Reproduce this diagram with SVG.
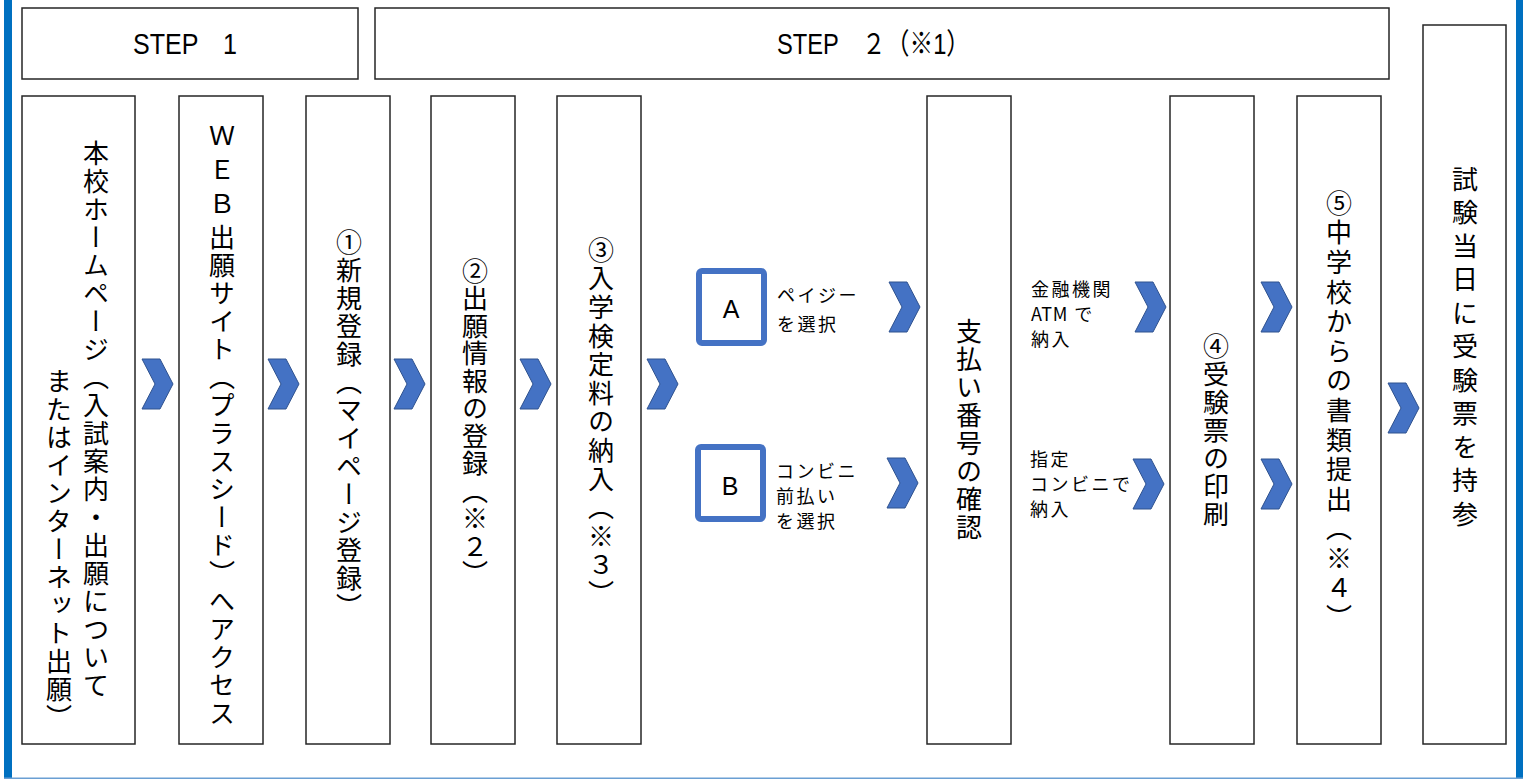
<svg xmlns="http://www.w3.org/2000/svg" width="1523" height="780" viewBox="0 0 1523 780">
<style>
.box{fill:#fff;stroke:#262626;stroke-width:1.5}
.v{font-family:"Noto Sans CJK JP","Noto Sans CJK SC",sans-serif;font-size:26px;writing-mode:vertical-rl;letter-spacing:2px;fill:#000}
.h{font-family:"Noto Sans CJK JP","Noto Sans CJK SC",sans-serif;font-size:18px;letter-spacing:2.5px;fill:#000}
.step{font-family:"Liberation Sans","Noto Sans CJK JP",sans-serif;font-size:29px;fill:#000}
.sel{fill:#fff;stroke:#4472C4;stroke-width:6}
.letter{font-family:"Liberation Sans",sans-serif;font-size:25px;fill:#000;text-anchor:middle}
.chev{fill:#4472C4;stroke:#2F528F;stroke-width:1}
</style>
<defs>
<path id="chev" class="chev" d="M0,0 H18 L31,25 L18,50 H0 L13,25 Z"/>
</defs>
<rect x="0" y="0" width="1523" height="780" fill="#fff"/>
<g id="frame">
<rect x="4" y="0" width="8" height="779" fill="#0070C0"/>
<rect x="1516" y="0" width="7" height="779" fill="#0070C0"/>
<rect x="4" y="777.5" width="1519" height="1.5" fill="#6A9FD3"/>
</g>
<g id="step1">
<rect class="box" x="22" y="8" width="336" height="71"/>
<text class="step" x="133" y="54" textLength="104" lengthAdjust="spacingAndGlyphs">STEP　1</text>
</g>
<g id="step2">
<rect class="box" x="375" y="8" width="1014" height="71"/>
<text class="step" x="777" y="54" textLength="193" lengthAdjust="spacingAndGlyphs">STEP　２（※1）</text>
</g>
<g id="homepage">
<rect class="box" x="22" y="96" width="113" height="648"/>
<text class="v" x="96" y="140">本校ホームページ（入試案内・出願について</text>
<text class="v" x="59" y="368">またはインターネット出願）</text>
</g>
<g id="website">
<rect class="box" x="179" y="96" width="84" height="648"/>
<text class="v" x="222" y="122"><tspan style="letter-spacing:8px">ＷＥＢ</tspan>出願サイト（プラスシード）へアクセス</text>
</g>
<g id="step-1">
<rect class="box" x="306" y="96" width="84" height="648"/>
<text class="v" x="349" y="229">①新規登録（マイページ登録）</text>
</g>
<g id="step-2">
<rect class="box" x="431" y="96" width="84" height="648"/>
<text class="v" x="475" y="258" style="letter-spacing:1.5px">②出願情報の登録（※２）</text>
</g>
<g id="step-3">
<rect class="box" x="557" y="96" width="84" height="648"/>
<text class="v" x="601" y="237" style="letter-spacing:2.6px">③入学検定料の納入（※３）</text>
</g>
<g id="optA">
<rect class="sel" x="699" y="271" width="65" height="72" rx="3"/>
<text class="letter" x="731" y="318">A</text>
<text class="h" x="777" y="302">ペイジー</text>
<text class="h" x="777" y="331">を選択</text>
</g>
<g id="optB">
<rect class="sel" x="698" y="447" width="65" height="72" rx="3"/>
<text class="letter" x="730" y="495">B</text>
<text class="h" x="776" y="478">コンビニ</text>
<text class="h" x="776" y="503">前払い</text>
<text class="h" x="776" y="528">を選択</text>
</g>
<g id="paycode">
<rect class="box" x="927" y="96" width="84" height="648"/>
<text class="v" x="969" y="318">支払い番号の確認</text>
</g>
<g id="atm">
<text class="h" x="1031" y="296">金融機関</text>
<text class="h" x="1031" y="321"><tspan style="letter-spacing:0.5px">ATM</tspan> で</text>
<text class="h" x="1031" y="346">納入</text>
</g>
<g id="conv">
<text class="h" x="1030" y="466">指定</text>
<text class="h" x="1030" y="491">コンビニで</text>
<text class="h" x="1030" y="516">納入</text>
</g>
<g id="step-4">
<rect class="box" x="1170" y="96" width="84" height="648"/>
<text class="v" x="1216" y="333">④受験票の印刷</text>
</g>
<g id="step-5">
<rect class="box" x="1297" y="96" width="84" height="648"/>
<text class="v" x="1339" y="190" style="letter-spacing:3.6px">⑤中学校からの書類提出（※４）</text>
</g>
<g id="exam">
<rect class="box" x="1423" y="25" width="83" height="719"/>
<text class="v" x="1465" y="166" style="letter-spacing:7.5px">試験当日に受験票を持参</text>
</g>
<g id="connectors">
<use href="#chev" x="142" y="359"/>
<use href="#chev" x="268" y="359"/>
<use href="#chev" x="394" y="359"/>
<use href="#chev" x="520" y="359"/>
<use href="#chev" x="647" y="359"/>
<use href="#chev" x="889" y="282"/>
<use href="#chev" x="887" y="458"/>
<use href="#chev" x="1135" y="282"/>
<use href="#chev" x="1133" y="459"/>
<use href="#chev" x="1261" y="282"/>
<use href="#chev" x="1261" y="459"/>
<use href="#chev" x="1388" y="383"/>
</g>
</svg>
